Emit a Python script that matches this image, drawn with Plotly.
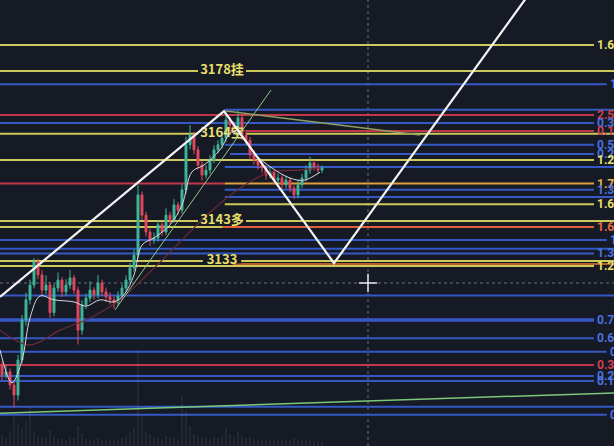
import plotly.graph_objects as go

BG = "#161a25"
YEL = "#cfc85a"
BLUE = "#3558c4"
RED = "#c2374a"
ORANGE = "#e0a040"
ORANGE_RED = "#e2603a"
DARK_ORANGE = "#b0602c"

# ---- candles (bar index 0..80) ----
opens = [3108.5, 3106.3, 3107.0, 3103.9, 3101.5, 3109.8, 3119.3, 3124.1, 3127.6, 3133.1,
         3130.0, 3126.4, 3127.6, 3121.1, 3126.9, 3128.8, 3126.0, 3127.6, 3129.3, 3126.4,
         3116.9, 3122.9, 3124.5, 3126.4, 3125.3, 3128.1, 3126.0, 3124.8, 3124.1, 3123.4,
         3125.0, 3126.9, 3128.8, 3131.7, 3134.7, 3149.0, 3144.2, 3140.2, 3138.3, 3138.8,
         3141.9, 3140.2, 3144.2, 3143.1, 3146.6, 3145.4, 3150.2, 3160.9, 3163.2, 3159.7,
         3156.1, 3153.7, 3154.9, 3157.3, 3159.7, 3160.9, 3162.5, 3166.8, 3165.6, 3164.9,
         3167.3, 3163.2, 3162.0, 3158.5, 3157.3, 3156.1, 3155.4, 3153.7, 3154.4, 3152.5,
         3153.0, 3151.4, 3152.5, 3150.6, 3149.0, 3151.4, 3153.0, 3154.9, 3156.6, 3155.6,
         3154.9]
highs = [3109.5, 3108.4, 3107.8, 3104.6, 3111.0, 3120.5, 3125.8, 3128.9, 3134.0, 3133.8,
         3131.2, 3129.9, 3128.4, 3128.0, 3130.6, 3129.5, 3129.0, 3131.2, 3130.0, 3127.2,
         3124.0, 3125.6, 3128.5, 3127.1, 3130.0, 3128.9, 3127.0, 3125.9, 3124.9, 3126.1,
         3127.8, 3129.9, 3132.9, 3136.0, 3151.3, 3149.8, 3145.0, 3141.0, 3140.1, 3143.0,
         3142.6, 3145.8, 3145.0, 3148.0, 3147.3, 3151.5, 3162.8, 3165.6, 3164.0, 3160.6,
         3157.0, 3156.0, 3158.4, 3160.8, 3162.0, 3164.2, 3168.5, 3167.5, 3166.4, 3169.0,
         3168.2, 3164.0, 3162.8, 3159.6, 3158.0, 3157.0, 3156.2, 3155.5, 3155.0, 3154.1,
         3153.8, 3153.6, 3153.2, 3151.3, 3152.6, 3154.0, 3156.0, 3158.1, 3157.3, 3156.4,
         3156.0]
lows = [3105.0, 3105.4, 3102.8, 3098.6, 3100.2, 3108.9, 3118.0, 3123.0, 3126.8, 3129.0,
        3125.2, 3125.5, 3119.8, 3120.2, 3126.0, 3124.8, 3125.1, 3126.7, 3125.5, 3113.5,
        3115.8, 3121.9, 3123.6, 3124.1, 3124.5, 3125.0, 3123.6, 3123.0, 3122.0, 3122.6,
        3124.1, 3126.0, 3127.9, 3130.8, 3133.9, 3143.0, 3139.1, 3136.9, 3137.4, 3137.9,
        3139.3, 3139.5, 3142.0, 3142.4, 3144.3, 3144.6, 3149.3, 3159.8, 3158.6, 3155.0,
        3152.4, 3152.9, 3154.0, 3156.5, 3158.9, 3160.0, 3161.6, 3164.5, 3163.8, 3164.0,
        3162.0, 3160.9, 3157.4, 3156.2, 3155.0, 3154.3, 3152.6, 3152.9, 3151.4, 3151.6,
        3150.3, 3150.5, 3149.6, 3148.0, 3148.2, 3150.6, 3152.2, 3154.0, 3154.8, 3154.0,
        3154.2]
closes = [3106.3, 3107.0, 3103.9, 3101.5, 3109.8, 3119.3, 3124.1, 3127.6, 3133.1, 3130.0,
          3126.4, 3127.6, 3121.1, 3126.9, 3128.8, 3126.0, 3127.6, 3129.3, 3126.4, 3116.9,
          3122.9, 3124.5, 3126.4, 3125.3, 3128.1, 3126.0, 3124.8, 3124.1, 3123.4, 3125.0,
          3126.9, 3128.8, 3131.7, 3134.7, 3149.0, 3144.2, 3140.2, 3138.3, 3138.8, 3141.9,
          3140.2, 3144.2, 3143.1, 3146.6, 3145.4, 3150.2, 3160.9, 3163.2, 3159.7, 3156.1,
          3153.7, 3154.9, 3157.3, 3159.7, 3160.9, 3162.5, 3166.8, 3165.6, 3164.9, 3167.3,
          3163.2, 3162.0, 3158.5, 3157.3, 3156.1, 3155.4, 3153.7, 3154.4, 3152.5, 3153.0,
          3151.4, 3152.5, 3150.6, 3149.0, 3151.4, 3153.0, 3154.9, 3156.6, 3155.6, 3154.9,
          3155.4]
volumes = [12, 8, 15, 30, 22, 18, 25, 40, 14, 10,
           8, 9, 16, 10, 7, 8, 6, 9, 8, 20,
           12, 7, 6, 5, 8, 6, 5, 6, 7, 6,
           8, 10, 14, 18, 96, 30, 15, 12, 9, 8,
           7, 10, 8, 9, 7, 50, 35, 20, 12, 10,
           9, 8, 7, 9, 8, 10, 18, 12, 9, 14,
           10, 8, 9, 7, 6, 6, 5, 6, 5, 6,
           5, 7, 6, 8, 6, 5, 6, 7, 5, 5,
           4]
bars = list(range(len(closes)))

# moving averages
ma_fast_x = [-0.5, 2.5, 5, 7, 9.5, 13, 18, 21, 24.5, 28, 30.5, 33, 35, 38, 42, 45,
             47.5, 50.5, 54.5, 57.5, 60.5, 63.5, 67.5, 72, 75.5, 79.5]
ma_fast = [3112.2, 3104.4, 3109.8, 3119.8, 3125.0, 3124.1, 3123.6, 3122.6, 3124.1, 3123.6,
           3125.3, 3130.0, 3137.1, 3138.8, 3141.9, 3146.6, 3154.5, 3156.1, 3159.7, 3164.0,
           3162.5, 3158.5, 3155.4, 3153.0, 3152.5, 3154.4]
ma_slow_x = [-0.5, 7, 14.5, 22, 29.5, 37, 44.5, 52, 59.5, 67, 74.5, 79.5]
ma_slow = [3116.9, 3113.4, 3116.9, 3119.8, 3124.1, 3130.7, 3137.8, 3144.9, 3150.6,
           3154.4, 3154.9, 3155.4]

# drawn objects
zig_x = [-0.5, 55.5, 83, 132]
zig_y = [3124.8, 3168.9, 3132.8, 3197.0]
channel_x = [28.25, 67.25]
channel_y = [3121.7, 3173.9]
olive_x = [56, 104.5]
olive_y = [3168.9, 3163.2]
base_x = [-0.5, 153]
base_y = [3097.2, 3102.0]
cross_x = 91.5
cross_y = 3128.1

# horizontal levels: price, right-hand label (only the part visible before the edge)
level_prices = [3184.6, 3178.4, 3175.3, 3169.2, 3168.0, 3166.1, 3164.2, 3163.5, 3160.9,
                3158.7, 3157.3, 3155.6, 3151.7, 3151.7, 3150.2, 3148.5, 3146.8, 3142.8,
                3141.4, 3141.4, 3138.3, 3136.2, 3135.1, 3133.3, 3132.6, 3132.1, 3125.1,
                3119.3, 3115.0, 3111.8, 3108.6, 3106.0, 3104.8, 3098.7, 3096.8]
level_labels = ["1.6", "", "1", "", "2.5", "0.3", "0.1", "", "0.5",
                "0.2", "1.2", "", "", "1.7", "1.3", "", "1.6", "",
                "", "1.6", "1", "", "1.3", "", "", "1.2", "",
                "0.7", "0.6", "0", "0.3", "0.2", "0.1", "", "0"]
# style per level: colour, start, end (bar units), width
level_style = [
    (YEL, -0.5, 148, 2), (YEL, -0.5, 153, 2), (BLUE, -0.5, 151.2, 2), (BLUE, 55.7, 153, 2),
    (RED, -0.5, 148, 2), (BLUE, -0.5, 148, 2), (RED, 55.7, 148, 2), (YEL, -0.5, 153, 2),
    (BLUE, 55.7, 148, 2), (BLUE, 57, 148, 2), (YEL, -0.5, 148, 2), (BLUE, 55.7, 153, 2),
    (RED, -0.5, 55.7, 2), (ORANGE, 55.7, 148, 2), (BLUE, 55.7, 148, 2), (BLUE, 55.7, 153, 2),
    (YEL, 55.7, 148, 2), (YEL, -0.5, 153, 2), (YEL, -0.5, 55.2, 2), (ORANGE_RED, 55.2, 148, 2),
    (BLUE, -0.5, 151.2, 2), (BLUE, -0.5, 153, 2), (BLUE, -0.5, 148, 2), (YEL, -0.5, 153, 2),
    (DARK_ORANGE, 57.7, 153, 2), (YEL, -0.5, 148, 2), (BLUE, -0.5, 153, 2),
    (BLUE, -0.5, 148, 3.5), (BLUE, -0.5, 148, 2), (BLUE, -0.5, 151.2, 2), (RED, -0.5, 148, 2),
    (BLUE, -0.5, 148, 2), (BLUE, -0.5, 148, 2), (BLUE, -0.5, 153, 2), (BLUE, -0.5, 151.2, 2),
]

# order notes in the middle of the chart
note_prices = [3178.4, 3163.5, 3142.8, 3133.3]
note_texts = ["3178挂", "3164空", "3143多", "3133"]
note_x = 55

label_col = {YEL: "#e6df6a", BLUE: "#4a72e0", RED: "#d0404f", ORANGE: "#e8b050",
             ORANGE_RED: "#e86a40", DARK_ORANGE: "#c87030"}

fig = go.Figure()

fig.add_trace(go.Bar(x=bars, y=volumes, yaxis="y2", width=0.3,
                     marker=dict(color="rgba(160,165,175,0.16)", line_width=0),
                     hoverinfo="skip"))

shapes = []
for price, (col, x0, x1, w) in zip(level_prices, level_style):
    shapes.append(dict(type="line", xref="x", yref="y", x0=x0, x1=x1, y0=price, y1=price,
                       line=dict(color=col, width=w), layer="below"))
# gaps in the level lines behind the order notes
for price, text in zip(note_prices, note_texts):
    half = 6 if len(text) > 4 else 4.8
    shapes.append(dict(type="rect", xref="x", yref="y", x0=note_x - half, x1=note_x + half,
                       y0=price - 0.6, y1=price + 0.6, fillcolor=BG, line_width=0,
                       layer="below"))
shapes.append(dict(type="line", xref="x", yref="paper", x0=cross_x, x1=cross_x, y0=0, y1=1,
                   line=dict(color="#6a6f7c", width=1, dash="dot"), layer="below"))
shapes.append(dict(type="line", xref="paper", yref="y", x0=0, x1=1, y0=cross_y, y1=cross_y,
                   line=dict(color="#6a6f7c", width=1, dash="dot"), layer="below"))

fig.add_trace(go.Scatter(x=base_x, y=base_y, mode="lines",
                         line=dict(color="#7cc87a", width=1.5), hoverinfo="skip"))
fig.add_trace(go.Scatter(x=ma_slow_x, y=ma_slow, mode="lines", line_shape="spline",
                         line=dict(color="#6e2a36", width=1.2), hoverinfo="skip"))

# notes drawn under the candles, as on the original screen
fig.add_trace(go.Scatter(x=[note_x] * len(note_texts), y=note_prices, mode="text",
                         text=["<b>" + t + "</b>" for t in note_texts],
                         textposition="middle center",
                         textfont=dict(family="Noto Sans CJK SC", size=13, color="#e6df6a"),
                         hoverinfo="skip"))

fig.add_trace(go.Scatter(x=channel_x, y=channel_y, mode="lines",
                         line=dict(color="#8fc98a", width=1), hoverinfo="skip"))
fig.add_trace(go.Scatter(x=olive_x, y=olive_y, mode="lines",
                         line=dict(color="#8f9e62", width=1.5), hoverinfo="skip"))

fig.add_trace(go.Candlestick(
    x=bars, open=opens, high=highs, low=lows, close=closes,
    increasing=dict(line=dict(color="#3fb59a", width=1), fillcolor="#3fb59a"),
    decreasing=dict(line=dict(color="#e0485e", width=1), fillcolor="#e0485e"),
    whiskerwidth=0, hoverinfo="skip"))

fig.add_trace(go.Scatter(x=ma_fast_x, y=ma_fast, mode="lines", line_shape="spline",
                         line=dict(color="#d8d8dc", width=1), hoverinfo="skip"))
fig.add_trace(go.Scatter(x=zig_x, y=zig_y, mode="lines",
                         line=dict(color="#f4f4f4", width=2.2), hoverinfo="skip"))
fig.add_trace(go.Scatter(x=[cross_x], y=[cross_y], mode="markers",
                         marker=dict(symbol="cross-thin", size=13,
                                     line=dict(color="#e8e8e8", width=1.5)),
                         hoverinfo="skip"))

annotations = []
for price, text, (col, x0, x1, w) in zip(level_prices, level_labels, level_style):
    if not text:
        continue
    annotations.append(dict(x=x1 + 0.3, y=price, xref="x", yref="y", text="<b>" + text + "</b>",
                            showarrow=False, xanchor="left", yanchor="middle",
                            font=dict(family="Roboto", size=12, color=label_col[col])))

fig.update_layout(
    width=614, height=446,
    margin=dict(l=0, r=0, t=0, b=0),
    paper_bgcolor=BG, plot_bgcolor=BG,
    showlegend=False,
    shapes=shapes, annotations=annotations,
    xaxis=dict(range=[-0.5, 153], visible=False, rangeslider=dict(visible=False),
               showgrid=False, zeroline=False),
    yaxis=dict(range=[3089.4, 3195.27], visible=False, showgrid=False, zeroline=False),
    yaxis2=dict(range=[0, 446], overlaying="y", visible=False, showgrid=False),
)

# drop the page's default body margin so the chart fills the window
fig.write_html("out.html", config={"displayModeBar": False},
               post_script="document.body.style.margin='0';document.body.style.background='%s';" % BG)
